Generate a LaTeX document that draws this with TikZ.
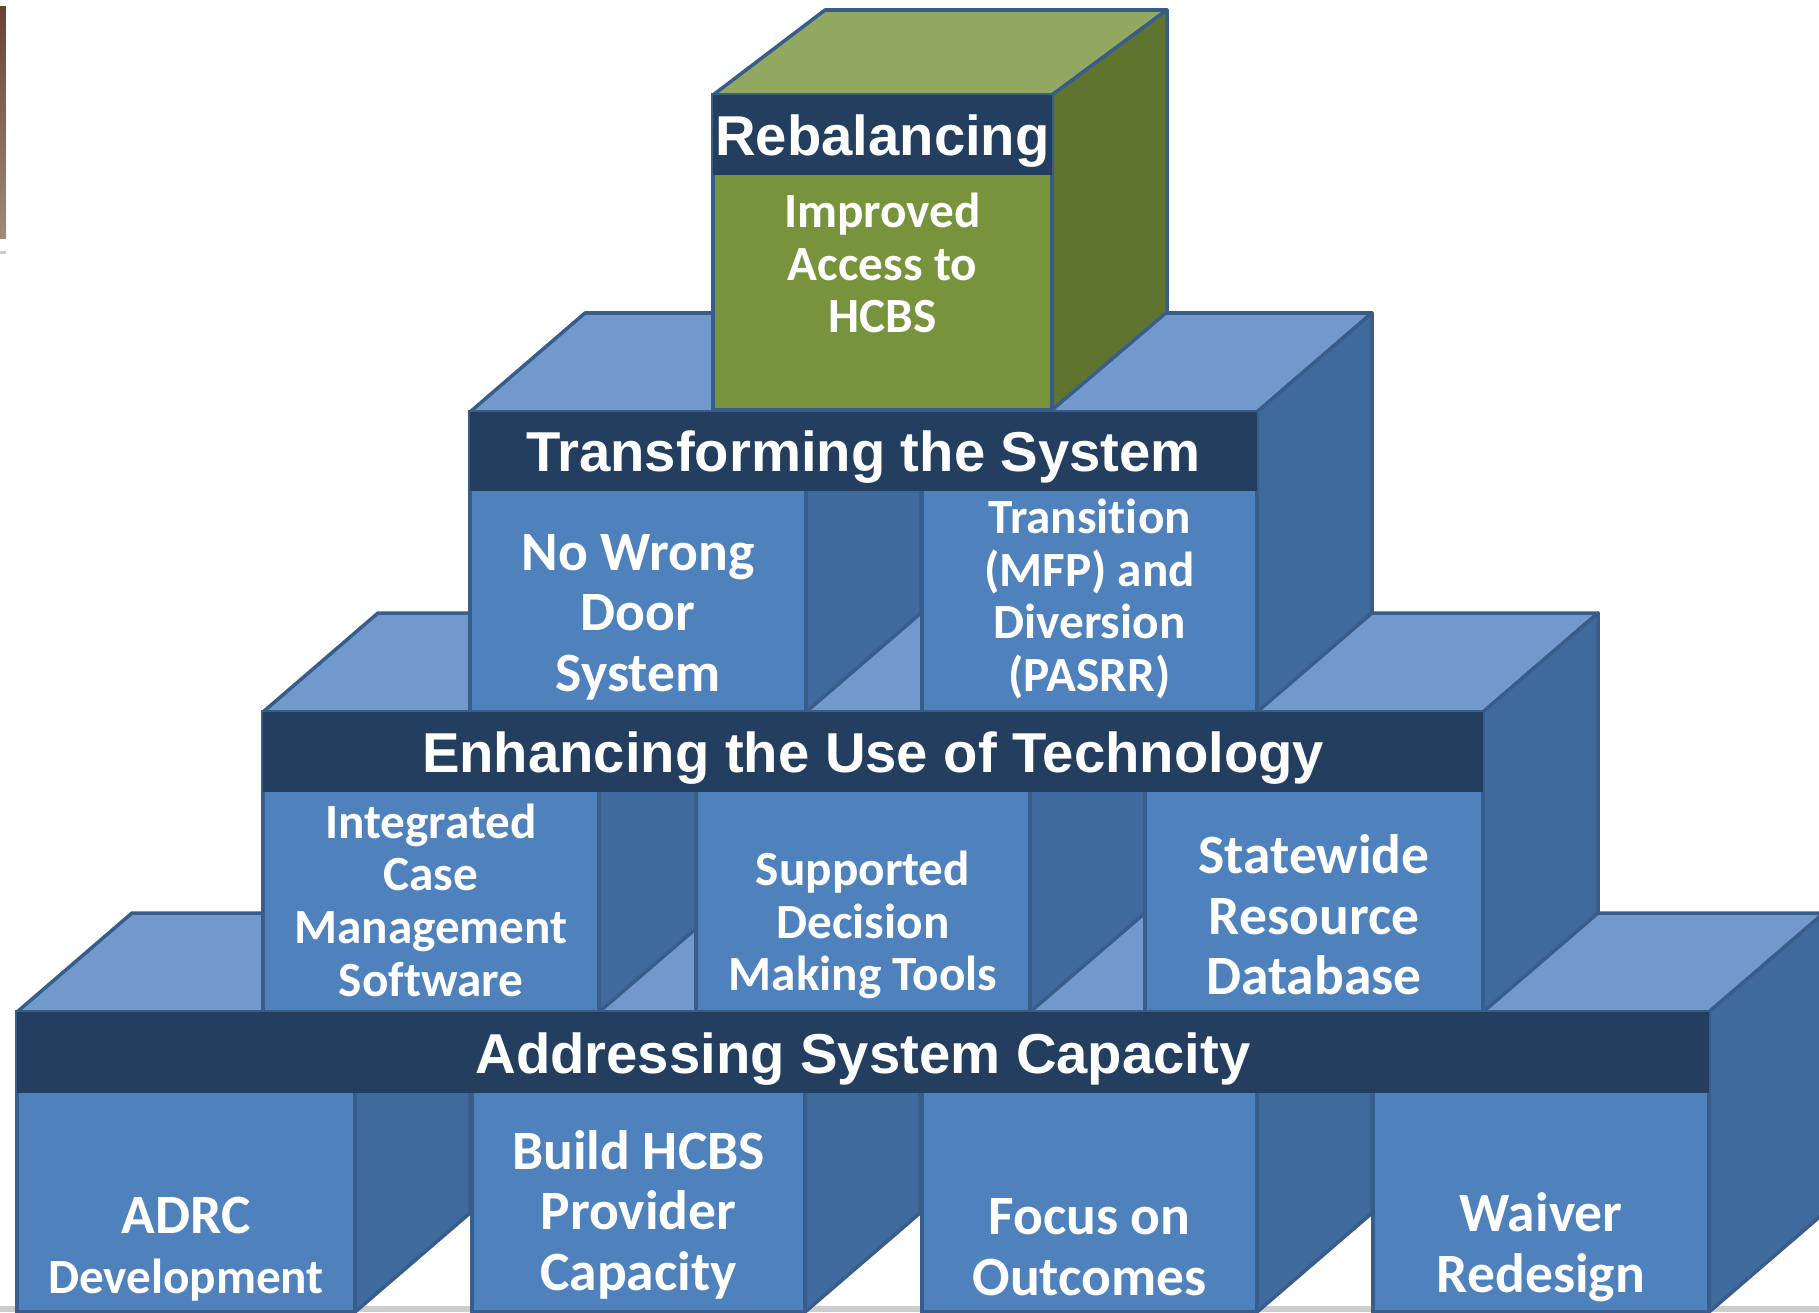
\documentclass[tikz,border=0pt]{standalone}
\usepackage{fontspec}
\setmainfont{Carlito}[Ligatures=NoCommon]
\newfontfamily\bandfont{Liberation Sans}
\usepackage{tikz}

\definecolor{frontblue}{RGB}{79,129,189}
\definecolor{sideblue}{RGB}{63,106,158}
\definecolor{topblue}{RGB}{113,153,203}
\definecolor{bandnavy}{RGB}{36,62,96}
\definecolor{edgeblue}{RGB}{56,93,138}
\definecolor{greenfront}{RGB}{119,147,60}
\definecolor{greenside}{RGB}{95,117,47}
\definecolor{greentop}{RGB}{146,168,97}
\definecolor{photodark}{RGB}{106,67,50}
\definecolor{photolight}{RGB}{160,138,120}

\tikzset{
  blockfront/.style={fill=frontblue, draw=edgeblue, line width=1pt},
  blockside/.style={fill=sideblue, draw=edgeblue, line width=1pt, line join=round},
  blocktop/.style={fill=topblue, draw=edgeblue, line width=1pt, line join=round},
  titleband/.style={fill=bandnavy},
  bandtitle/.style={text=white, anchor=base, inner sep=0pt,
    font=\bandfont\bfseries\fontsize{16}{17}\selectfont},
  blocktext/.style={text=white, align=center, inner sep=0pt,
    font=\bfseries\fontsize{14}{15}\selectfont},
  bigtext/.style={blocktext, font=\bfseries\fontsize{15.8}{17.2}\selectfont},
}

\begin{document}
\begin{tikzpicture}
  \useasboundingbox (0, 0) rectangle (18.19, 13.12);

  \fill[gray!40] (0, 0) rectangle (18.19, 0.06);
  \shade[top color=photodark, bottom color=photolight] (0, 10.74) rectangle (0.06, 13.05);
  \fill[gray!40] (0, 10.58) rectangle (0.06, 10.61);

  % blue blocks, row by row from the bottom
  \foreach \yb/\xa/\xb in {0/0.17/3.55, 0/4.72/8.05, 0/9.22/12.57, 0/13.73/17.09,
                            3/2.63/5.99, 3/6.96/10.30, 3/11.45/14.83,
                            6/4.70/8.06, 6/9.22/12.57}{
    \draw[blocktop] (\xa, \yb+3) -- ++(1.15, 0.99) -- ({\xb+1.15}, {\yb+3.99}) -- (\xb, \yb+3) -- cycle;
    \draw[blockside] (\xb, \yb+3) -- ++(1.15, 0.99) -- ++(0, -3) -- (\xb, \yb) -- cycle;
    \draw[blockfront] (\xa, \yb) rectangle (\xb, \yb+3);
  }

  % green block on top
  \draw[fill=greentop, draw=edgeblue, line width=1pt, line join=round] (7.13, 12.17) -- (8.25, 13.02) -- (11.67, 13.02) -- (10.52, 12.17) -- cycle;
  \draw[fill=greenside, draw=edgeblue, line width=1pt, line join=round] (10.52, 12.17) -- (11.67, 13.02) -- (11.67, 10.00) -- (10.52, 9.02) -- cycle;
  \draw[fill=greenfront, draw=edgeblue, line width=1pt] (7.13, 9.02) rectangle (10.52, 12.17);

  \fill[titleband] (0.17, 2.19) rectangle (17.09, 3.00);
  \fill[titleband] (2.63, 5.20) rectangle (14.83, 6.00);
  \fill[titleband] (4.70, 8.21) rectangle (12.57, 9.00);
  \fill[titleband] (7.13, 11.37) rectangle (10.52, 12.17);

  \node[bandtitle] (capacity) at (8.63, 2.39) {Addressing System Capacity};
  \node[bandtitle] (technology) at (8.73, 5.40) {Enhancing the Use of Technology};
  \node[bandtitle] (transforming) at (8.635, 8.41) {Transforming the System};
  \node[bandtitle] (rebalancing) at (8.825, 11.57) {Rebalancing};

  \node[blocktext] (access) at (8.825, 10.49) {Improved\\Access to\\HCBS};
  \node[bigtext] (nowrongdoor) at (6.38, 6.95) {No Wrong\\Door\\System};
  \node[blocktext] (transition) at (10.895, 7.13) {Transition\\(MFP) and\\Diversion\\(PASRR)};
  \node[blocktext] (casemgmt) at (4.31, 4.12) {Integrated\\Case\\Management\\Software};
  \node[blocktext] (decision) at (8.63, 3.87) {Supported\\Decision\\Making Tools};
  \node[bigtext] (database) at (13.14, 3.97) {Statewide\\Resource\\Database};
  \node[blocktext] (adrc) at (1.86, 0.63) {{\fontsize{15.8}{17}\selectfont ADRC}\\[2pt]Development};
  \node[bigtext] (provider) at (6.385, 0.975) {Build HCBS\\Provider\\Capacity};
  \node[bigtext] (outcomes) at (10.895, 0.65) {Focus on\\Outcomes};
  \node[bigtext] (waiver) at (15.41, 0.65) {Waiver\\Redesign};
\end{tikzpicture}
\end{document}
